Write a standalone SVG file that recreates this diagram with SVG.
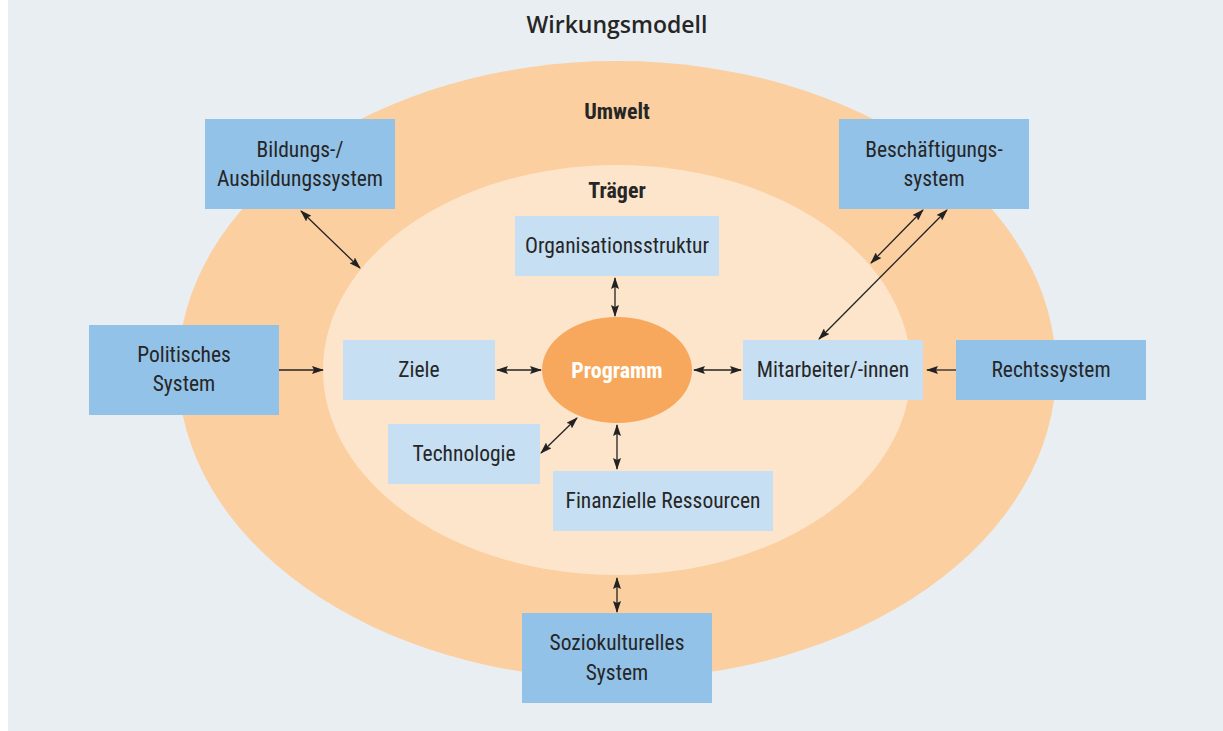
<svg xmlns="http://www.w3.org/2000/svg" width="1223" height="731" viewBox="0 0 1223 731">
<defs>
<style>
text{font-family:"Liberation Sans Narrow","Roboto Condensed","DejaVu Sans Condensed","Liberation Sans",sans-serif;fill:#262626;text-anchor:middle;font-size:21.5px}
.t{font-family:"Open Sans","Liberation Sans",sans-serif;font-size:23px;font-weight:600}
.h{font-weight:bold;font-size:22px}
.ob{fill:#93c2e8}
.ib{fill:#c6dff3}
.c line{stroke:#222;stroke-width:1.3;marker-end:url(#a);marker-start:url(#as)}
.c line.one{marker-start:none}
</style>
<marker id="a" viewBox="0 0 12 8" refX="11" refY="4" markerWidth="12" markerHeight="8" markerUnits="userSpaceOnUse" orient="auto"><path d="M0,0 L12,4 L0,8 L2,4 Z" fill="#222"/></marker>
<marker id="as" viewBox="0 0 12 8" refX="1" refY="4" markerWidth="12" markerHeight="8" markerUnits="userSpaceOnUse" orient="auto"><path d="M12,0 L0,4 L12,8 L10,4 Z" fill="#222"/></marker>
</defs>
<rect x="8" y="0" width="1215" height="731" fill="#e9eef2"/>
<text class="t" x="617" y="33">Wirkungsmodell</text>
<g id="umwelt"><ellipse cx="617" cy="370" rx="439" ry="309" fill="#fbcfa0"/><text class="h" x="617" y="119">Umwelt</text></g>
<g id="traeger"><ellipse cx="617" cy="370" rx="294" ry="205" fill="#fde5cc"/><text class="h" x="617" y="198">Träger</text></g>
<g id="programm"><ellipse cx="617" cy="370" rx="75" ry="53" fill="#f7a85c"/><text class="h" x="617" y="378" style="fill:#fff">Programm</text></g>
<g id="bildung"><rect class="ob" x="205" y="119" width="190" height="90"/><text x="300" y="157">Bildungs-/</text><text x="300" y="186">Ausbildungssystem</text></g>
<g id="beschaeftigung"><rect class="ob" x="839" y="119" width="190" height="90"/><text x="934" y="157">Beschäftigungs-</text><text x="934" y="186">system</text></g>
<g id="politik"><rect class="ob" x="89" y="325" width="190" height="90"/><text x="184" y="362">Politisches</text><text x="184" y="391">System</text></g>
<g id="recht"><rect class="ob" x="956" y="340" width="190" height="60"/><text x="1051" y="377">Rechtssystem</text></g>
<g id="sozio"><rect class="ob" x="522" y="613" width="190" height="90"/><text x="617" y="650">Soziokulturelles</text><text x="617" y="680">System</text></g>
<g id="organisation"><rect class="ib" x="515" y="216" width="204" height="60"/><text x="617" y="253">Organisationsstruktur</text></g>
<g id="ziele"><rect class="ib" x="343" y="340" width="152" height="60"/><text x="419" y="377">Ziele</text></g>
<g id="mitarbeiter"><rect class="ib" x="743" y="340" width="180" height="60"/><text x="833" y="377">Mitarbeiter/-innen</text></g>
<g id="technologie"><rect class="ib" x="388" y="424" width="152" height="60"/><text x="464" y="461">Technologie</text></g>
<g id="finanzen"><rect class="ib" x="553" y="471" width="220" height="60"/><text x="663" y="508">Finanzielle Ressourcen</text></g>
<g class="c" id="connectors">
<line x1="301" y1="211" x2="360" y2="268"/>
<line x1="923" y1="210" x2="871" y2="263"/>
<line x1="947" y1="210" x2="819" y2="339"/>
<line class="one" x1="279" y1="370" x2="323" y2="370"/>
<line class="one" x1="956" y1="370" x2="927" y2="370"/>
<line x1="615" y1="278" x2="615" y2="316"/>
<line x1="497" y1="370" x2="541" y2="370"/>
<line x1="694" y1="370" x2="741" y2="370"/>
<line x1="541" y1="453" x2="577" y2="418"/>
<line x1="617" y1="425" x2="617" y2="469"/>
<line x1="617" y1="578" x2="617" y2="612"/>
</g>
</svg>
